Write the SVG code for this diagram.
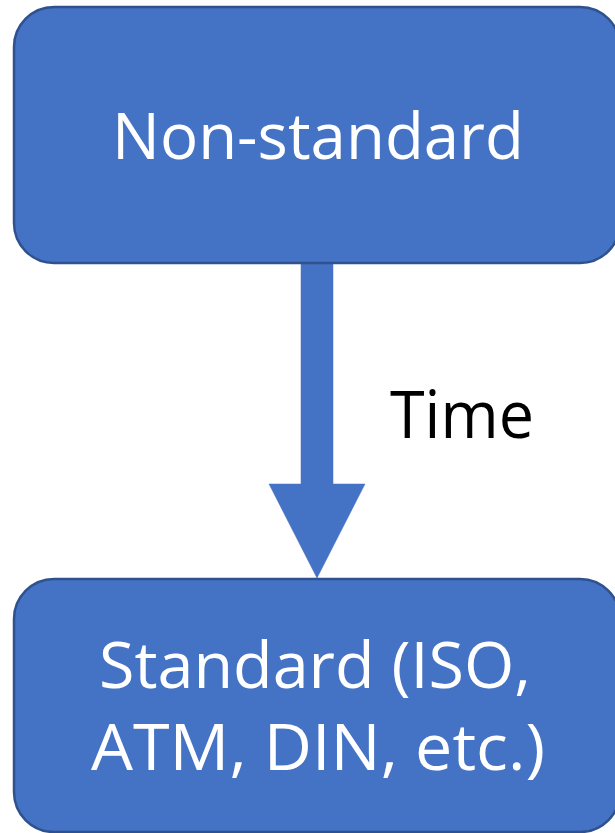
<svg xmlns="http://www.w3.org/2000/svg" width="615" height="833" viewBox="0 0 615 833">
  <style>
    .box { fill: #4472C4; stroke: #2F528F; stroke-width: 2.5; }
    .arrow { fill: #4472C4; stroke: #4472C4; stroke-width: 0.5; }
    .lbl { font-family: "Open Sans", "Liberation Sans", sans-serif; font-size: 64px; fill: #FFFFFF; }
    .time { font-family: "Open Sans", "Liberation Sans", sans-serif; font-size: 65px; fill: #000000; }
  </style>
  <rect width="615" height="833" fill="#FFFFFF"/>
  <g id="connectors">
    <polygon class="arrow" points="301,263 333,263 333,484 365,484 317,578 269,484 301,484"/>
    <text class="time" x="390" y="438" textLength="144" lengthAdjust="spacingAndGlyphs">Time</text>
  </g>
  <g id="node-nonstandard">
    <rect class="box" x="14" y="7" width="606" height="256" rx="40" ry="40"/>
    <text class="lbl" x="112" y="159" textLength="412" lengthAdjust="spacingAndGlyphs">Non-standard</text>
  </g>
  <g id="node-standard">
    <rect class="box" x="14" y="579" width="606" height="253" rx="40" ry="40"/>
    <text class="lbl" x="99" y="688" textLength="432" lengthAdjust="spacingAndGlyphs">Standard (ISO,</text>
    <text class="lbl" x="91" y="770" textLength="454" lengthAdjust="spacingAndGlyphs">ATM, DIN, etc.)</text>
  </g>
</svg>
